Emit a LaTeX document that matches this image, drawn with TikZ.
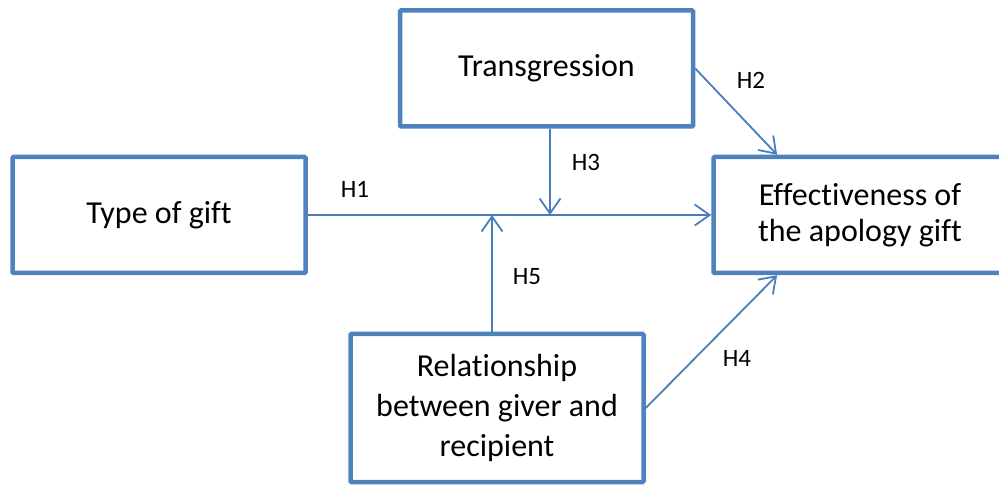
\documentclass[tikz,border=0pt]{standalone}
\usepackage{fontspec}
\setmainfont[Ligatures=NoCommon]{Carlito}
\usetikzlibrary{arrows.meta, positioning}

\definecolor{boxblue}{HTML}{4F81BD}
\definecolor{lineblue}{HTML}{4A7EBB}

\begin{document}
\begin{tikzpicture} [x=1pt, y=-1pt,
  var/.style = {draw=boxblue, line width=4.5pt, rectangle, rounded corners=1pt,
                minimum width=293pt, minimum height=116pt, align=center,
                font=\fontsize{32}{36}\selectfont},
  link/.style = {draw=lineblue, line width=1.8pt,
                 -{Straight Barb[length=15pt, width=21pt]}},
  hyp/.style = {font=\fontsize{25}{28}\selectfont}]

\clip (0,0) rectangle (999,486);

\node (gift) [var] at (159,215) {Type of gift};
\node (trans) [var] at (546.5,68.5) {Transgression};
\node (effect) [var] at (860,215) {Effectiveness of\\the apology gift};
\node (rel) [var, minimum height=148pt, font=\fontsize{32}{40}\selectfont]
  at (497,408) {Relationship\\between giver and\\recipient};

% points where the moderators meet H1
\coordinate (m3) at (550,215);
\coordinate (m5) at (492,215);

\draw [link] (gift) -- (effect);
\draw [link] (trans.south -| m3) -- (m3);
\draw [link] (rel.north -| m5) -- (m5);
\draw [link] (trans.east) -- (effect.144);
\draw [link] (rel.east) -- (effect.216);

\node (h1) [hyp] at (355,189) {H1};
\node (h2) [hyp] at (751,80) {H2};
\node (h3) [hyp] at (586,162) {H3};
\node (h4) [hyp] at (737,358) {H4};
\node (h5) [hyp] at (527,277) {H5};

\end{tikzpicture}
\end{document}
